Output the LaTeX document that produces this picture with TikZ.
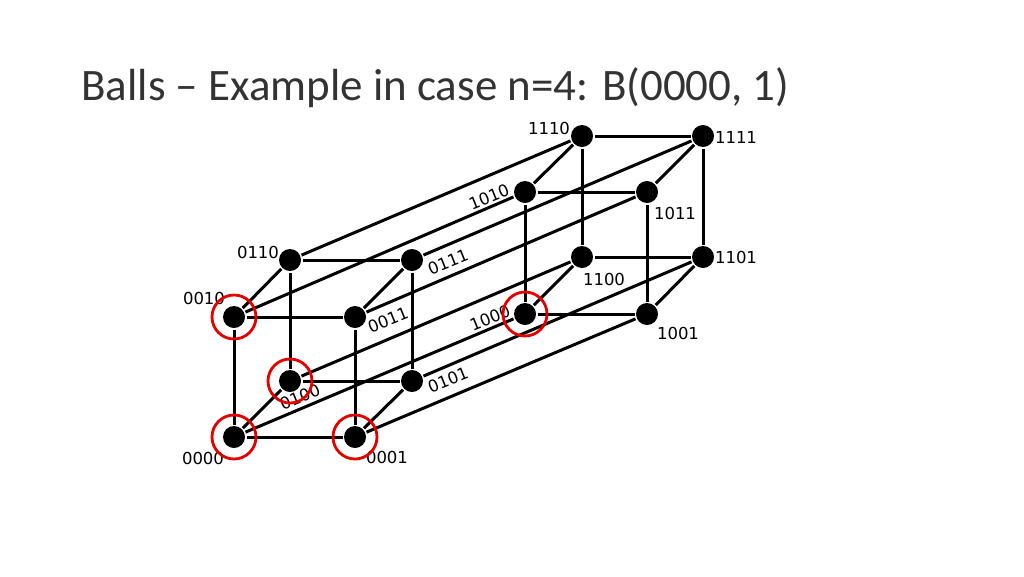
\documentclass[tikz,border=0pt]{standalone}
\usepackage{fontspec}
\setmainfont{Carlito}
\newfontfamily\labfont{DejaVu Sans}
\tikzset{vertex/.style={circle, fill=black, minimum size=22pt, inner sep=0pt},
  ring/.style={circle, draw=red!90!black, line width=2.8pt, minimum size=44pt},
  lab/.style={font=\labfont\fontsize{16.5}{16.5}\selectfont, inner sep=1pt},}
\begin{document}
\begin{tikzpicture}[x=1pt, y=-1pt, line width=3pt]
        \useasboundingbox (0,0) rectangle (1024,576);
        % Title
        \node[anchor=base west, inner sep=0pt, font=\fontsize{45}{45}\selectfont, text=black!80] (title) at (80,100) {Balls -- Example in case n=4: B(0000, 1)};
        % Nodes
        \node[vertex] (n0000) at (234,437) {};
        \node[vertex] (n0001) at (355,437) {};
        \node[vertex] (n0010) at (234,317) {};
        \node[vertex] (n0011) at (355,317) {};
        \node[vertex] (n0100) at (290,381) {};
        \node[vertex] (n0101) at (412,381) {};
        \node[vertex] (n0110) at (290,260) {};
        \node[vertex] (n0111) at (412,260) {};
        \node[vertex] (n1000) at (525,314) {};
        \node[vertex] (n1001) at (647,314) {};
        \node[vertex] (n1010) at (525,192) {};
        \node[vertex] (n1011) at (647,192) {};
        \node[vertex] (n1100) at (582,257) {};
        \node[vertex] (n1101) at (703,257) {};
        \node[vertex] (n1110) at (582,136) {};
        \node[vertex] (n1111) at (703,136) {};
        % Edges
        \foreach \a/\b in {0000/0001,0010/0011,0100/0101,0110/0111,1000/1001,1010/1011,1100/1101,1110/1111,
            0000/0010,0001/0011,0100/0110,0101/0111,1000/1010,1001/1011,1100/1110,1101/1111,
            0000/0100,0001/0101,0010/0110,0011/0111,1000/1100,1001/1101,1010/1110,1011/1111,
            0000/1000,0001/1001,0010/1010,0011/1011,0100/1100,0101/1101,0110/1110,0111/1111}
            \draw (n\a) -- (n\b);
        % Labels
        \node[lab] (l1110) at (549,128) {1110};
        \node[lab] (l1111) at (736,137) {1111};
        \node[lab, rotate=22] (l1010) at (489,197) {1010};
        \node[lab] (l1011) at (675,213) {1011};
        \node[lab] (l0110) at (258,252) {0110};
        \node[lab, rotate=22] (l0111) at (448,262) {0111};
        \node[lab] (l1101) at (736,257) {1101};
        \node[lab] (l1100) at (604,279) {1100};
        \node[lab] (l0010) at (204,298) {0010};
        \node[lab, rotate=22] (l0011) at (388,320) {0011};
        \node[lab, rotate=22] (l1000) at (490,318) {1000};
        \node[lab] (l1001) at (678,333) {1001};
        \node[lab, rotate=22] (l0100) at (300,397) {0100};
        \node[lab, rotate=22] (l0101) at (448,380) {0101};
        \node[lab] (l0000) at (203,458) {0000};
        \node[lab] (l0001) at (387,457) {0001};
        % Ball
        \foreach \v in {0000,0001,0010,0100,1000}
            \node[ring] (r\v) at (n\v) {};
    \end{tikzpicture}
\end{document}
